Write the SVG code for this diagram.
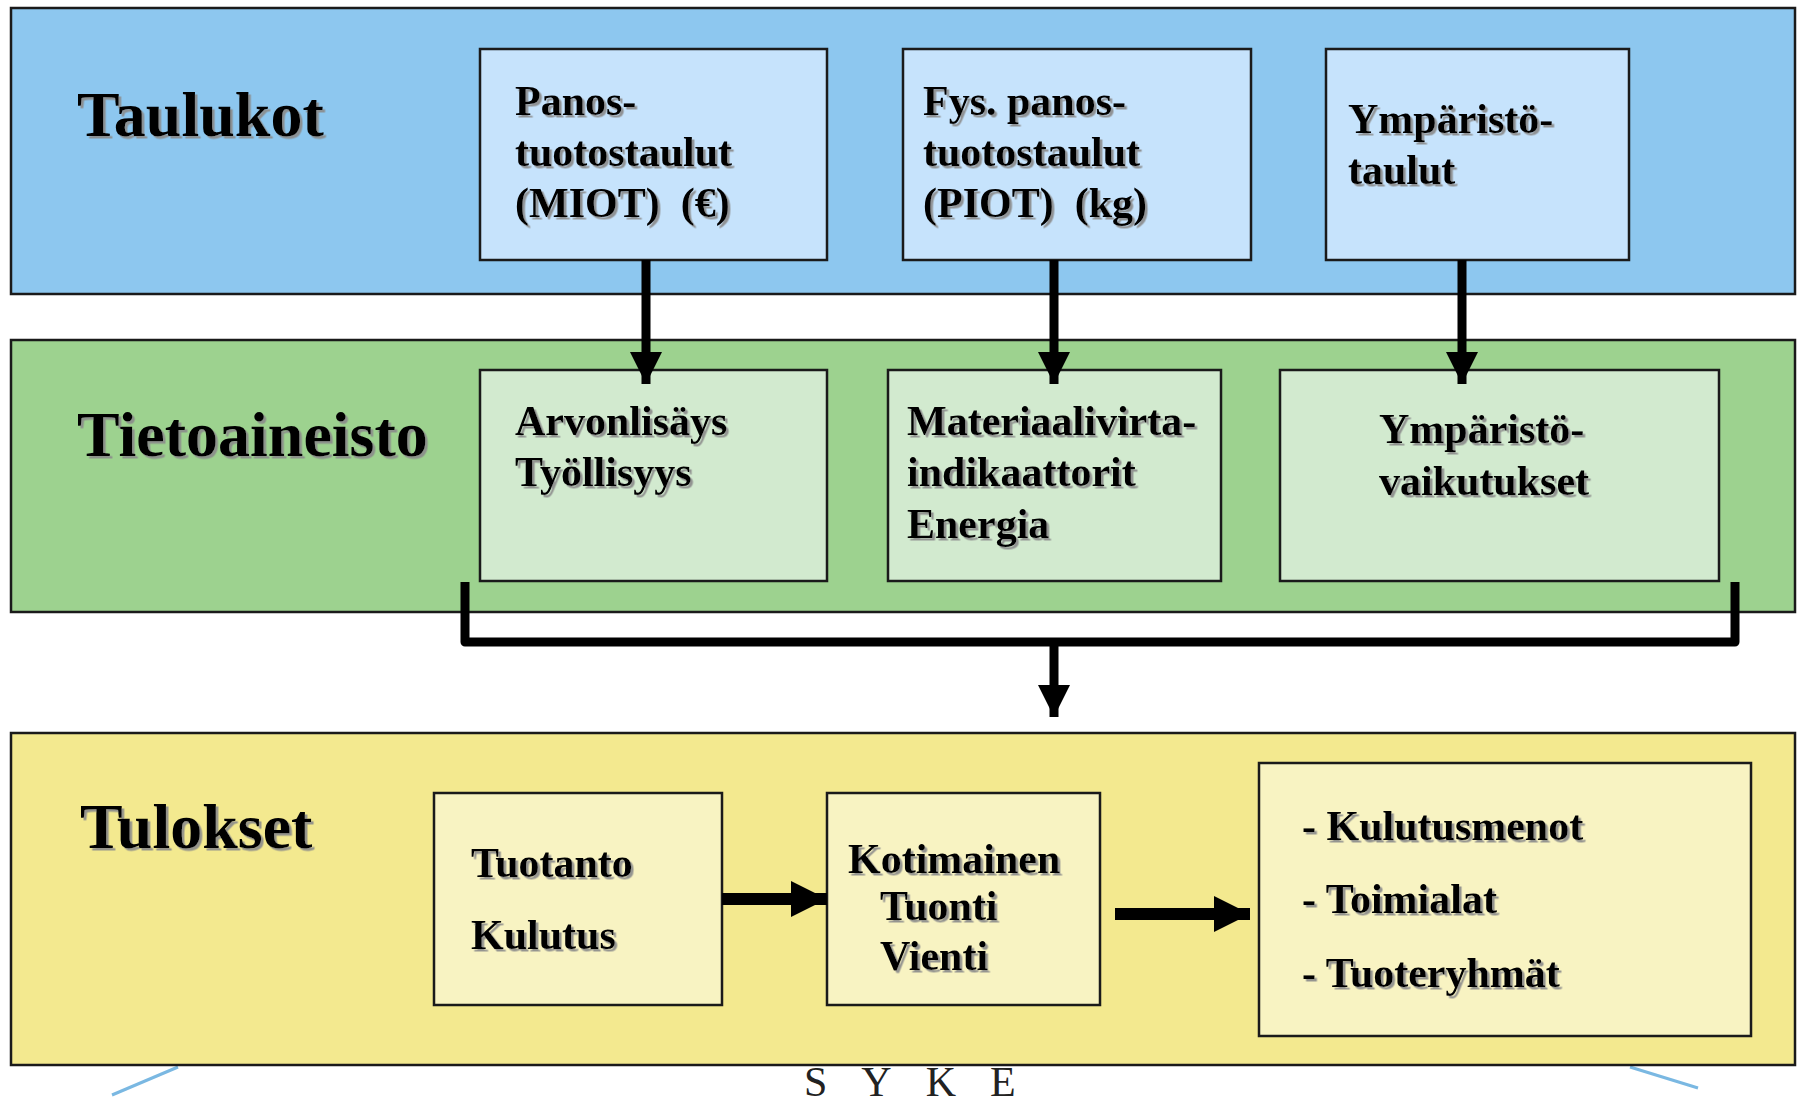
<svg xmlns="http://www.w3.org/2000/svg" width="1799" height="1103" viewBox="0 0 1799 1103">
<defs>
<filter id="sh" x="-5%" y="-20%" width="110%" height="140%">
<feDropShadow dx="2.5" dy="2.5" stdDeviation="0.6" flood-color="#8a8a8a" flood-opacity="0.9"/>
</filter>
<marker id="ah" viewBox="0 0 10 10" refX="10" refY="5" markerWidth="3.6" markerHeight="3.6" orient="auto" markerUnits="strokeWidth">
<path d="M0,0 L10,5 L0,10 Z" fill="#000"/>
</marker>
<marker id="ah2" viewBox="0 0 10 10" refX="10" refY="5" markerWidth="3" markerHeight="3" orient="auto" markerUnits="strokeWidth">
<path d="M0,0 L10,5 L0,10 Z" fill="#000"/>
</marker>
</defs>
<style>
.band{stroke:#1a1a1a;stroke-width:2.5}
.box{stroke:#1a1a1a;stroke-width:2.5}
.blue{fill:#8dc7ef}
.lblue{fill:#c6e3fc}
.green{fill:#9dd28f}
.lgreen{fill:#d2eacf}
.yellow{fill:#f3e98f}
.lyellow{fill:#f8f3c2}
.t{font-family:"Liberation Serif","Times New Roman",serif;font-weight:bold;fill:#000;filter:url(#sh)}
.title{font-size:64px}
.lbl{font-size:42px}
.conn{fill:none;stroke:#000;stroke-width:9;stroke-linejoin:round}
</style>

<g id="deco">
<line x1="112" y1="1095" x2="178" y2="1067" stroke="#7ab8e2" stroke-width="3"/>
<line x1="1630" y1="1067" x2="1698" y2="1088" stroke="#7ab8e2" stroke-width="3"/>
<text x="804" y="1096" font-family="'Liberation Serif','Times New Roman',serif" font-size="42" letter-spacing="34" fill="#222">SYKE</text>
</g>

<g id="band-taulukot">
<rect class="band blue" x="11" y="8" width="1784" height="286"/>
<text class="t title" x="77" y="136">Taulukot</text>
</g>
<g id="band-tietoaineisto">
<rect class="band green" x="11" y="340" width="1784" height="272"/>
<text class="t title" x="77" y="456">Tietoaineisto</text>
</g>
<g id="band-tulokset">
<rect class="band yellow" x="11" y="733" width="1784" height="332"/>
<text class="t title" x="80" y="848">Tulokset</text>
</g>

<g id="miot">
<rect class="box lblue" x="480" y="49" width="347" height="211"/>
<text class="t lbl" x="515" y="115">Panos-</text>
<text class="t lbl" x="515" y="166">tuotostaulut</text>
<text class="t lbl" x="515" y="217" xml:space="preserve">(MIOT)  (€)</text>
</g>
<g id="piot">
<rect class="box lblue" x="903" y="49" width="348" height="211"/>
<text class="t lbl" x="923" y="115">Fys. panos-</text>
<text class="t lbl" x="923" y="166">tuotostaulut</text>
<text class="t lbl" x="923" y="217" xml:space="preserve">(PIOT)  (kg)</text>
</g>
<g id="ymptaulut">
<rect class="box lblue" x="1326" y="49" width="303" height="211"/>
<text class="t lbl" x="1348" y="133">Ympäristö-</text>
<text class="t lbl" x="1348" y="184">taulut</text>
</g>

<g id="arvonlisays">
<rect class="box lgreen" x="480" y="370" width="347" height="211"/>
<text class="t lbl" x="515" y="435">Arvonlisäys</text>
<text class="t lbl" x="515" y="486">Työllisyys</text>
</g>
<g id="materiaali">
<rect class="box lgreen" x="888" y="370" width="333" height="211"/>
<text class="t lbl" x="907" y="435">Materiaalivirta-</text>
<text class="t lbl" x="907" y="486">indikaattorit</text>
<text class="t lbl" x="907" y="538">Energia</text>
</g>
<g id="ympvaikutukset">
<rect class="box lgreen" x="1280" y="370" width="439" height="211"/>
<text class="t lbl" x="1379" y="443">Ympäristö-</text>
<text class="t lbl" x="1379" y="495">vaikutukset</text>
</g>

<g id="tuotanto">
<rect class="box lyellow" x="434" y="793" width="288" height="212"/>
<text class="t lbl" x="471" y="877">Tuotanto</text>
<text class="t lbl" x="471" y="949">Kulutus</text>
</g>
<g id="kotimainen">
<rect class="box lyellow" x="827" y="793" width="273" height="212"/>
<text class="t lbl" x="848" y="873">Kotimainen</text>
<text class="t lbl" x="880" y="920">Tuonti</text>
<text class="t lbl" x="880" y="970">Vienti</text>
</g>
<g id="kulutusmenot">
<rect class="box lyellow" x="1259" y="763" width="492" height="273"/>
<text class="t lbl" x="1302" y="840">- Kulutusmenot</text>
<text class="t lbl" x="1302" y="913">- Toimialat</text>
<text class="t lbl" x="1302" y="987">- Tuoteryhmät</text>
</g>

<g id="connectors">
<line class="conn" x1="646" y1="260" x2="646" y2="384" marker-end="url(#ah)"/>
<line class="conn" x1="1054" y1="260" x2="1054" y2="384" marker-end="url(#ah)"/>
<line class="conn" x1="1462" y1="260" x2="1462" y2="384" marker-end="url(#ah)"/>
<path class="conn" d="M465,582 V642 H1735 V582"/>
<line class="conn" x1="1054" y1="642" x2="1054" y2="717" marker-end="url(#ah)"/>
<line class="conn" x1="722" y1="899" x2="827" y2="899" marker-end="url(#ah2)" style="stroke-width:12"/>
<line class="conn" x1="1115" y1="914" x2="1250" y2="914" marker-end="url(#ah2)" style="stroke-width:12"/>
</g>
</svg>
